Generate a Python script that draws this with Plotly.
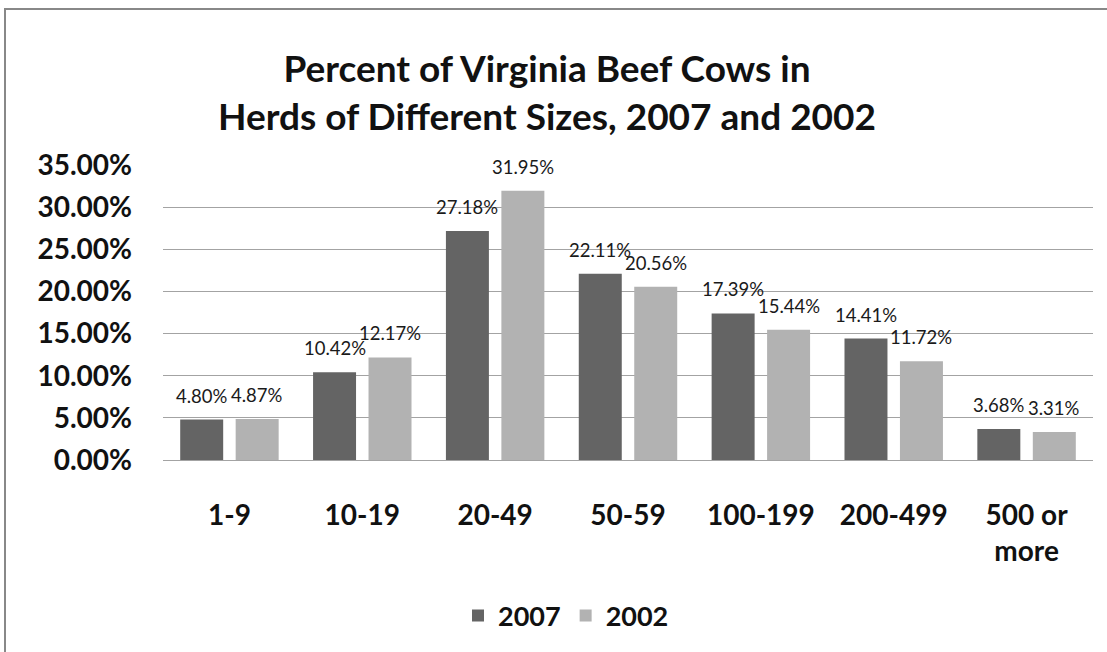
import plotly.graph_objects as go

# Herd size classes and share of beef cows per class
herd_sizes = ["1-9", "10-19", "20-49", "50-59", "100-199", "200-499", "500 or<br>more"]
share_2007 = [4.80, 10.42, 27.18, 22.11, 17.39, 14.41, 3.68]
share_2002 = [4.87, 12.17, 31.95, 20.56, 15.44, 11.72, 3.31]
y_ticks = [0, 5, 10, 15, 20, 25, 30, 35]

FONT = "Lato"

W, H = 1107, 652
L, R, T, B = 163, 14, 165, 190
pw, ph = W - L - R, H - T - B

BARGAP = 0.165
GROUPGAP = 0.225
slot_px = pw / len(herd_sizes) * (1 - BARGAP) / 2


def px(x):
    return (x - L) / pw


def py(y):
    return (H - B - y) / ph


fig = go.Figure()
series = [("2007", share_2007, "#646464", -0.5), ("2002", share_2002, "#b2b2b2", 0.5)]
annotations = []
for name, vals, color, side in series:
    fig.add_trace(go.Bar(
        x=herd_sizes,
        y=[v / 100 for v in vals],
        name=name,
        marker=dict(color=color, line=dict(width=0)),
    ))
    # value labels floating above each bar
    for cat, v in zip(herd_sizes, vals):
        annotations.append(dict(
            x=cat, y=v / 100, xref="x", yref="y",
            text=f"{v:.2f}%", showarrow=False,
            xanchor="center", yanchor="middle",
            xshift=side * slot_px, yshift=24,
            font=dict(family=FONT, size=18.5, color="#1a1a1a"),
        ))

fig.update_layout(
    width=W, height=H,
    margin=dict(l=L, r=R, t=T, b=B),
    paper_bgcolor="white",
    plot_bgcolor="white",
    barmode="group",
    bargap=BARGAP,
    bargroupgap=GROUPGAP,
    title=dict(
        text="Percent of Virginia Beef Cows in<br>Herds of Different Sizes, 2007 and 2002",
        x=547 / W, xref="container", xanchor="center",
        y=1 - 82 / H, yref="container", yanchor="middle",
        font=dict(family=FONT, size=37, color="#111111", weight="bold"),
    ),
    xaxis=dict(
        showgrid=False,
        showline=False,
        ticks="",
        automargin=False,
        tickfont=dict(family=FONT, size=28, color="#111111", weight="bold"),
        ticklabelstandoff=36,
    ),
    yaxis=dict(
        range=[0, 0.35],
        tickvals=[v / 100 for v in y_ticks],
        tickformat=".2%",
        showgrid=True,
        gridcolor="#a3a3a3",
        gridwidth=1,
        zeroline=True,
        zerolinecolor="#a3a3a3",
        zerolinewidth=1,
        showline=False,
        ticks="",
        automargin=False,
        tickfont=dict(family=FONT, size=28, color="#111111", weight="bold"),
        ticklabelstandoff=30,
    ),
    legend=dict(
        orientation="h",
        x=px(566), xanchor="center",
        y=py(619), yanchor="middle",
        font=dict(family=FONT, size=27, color="#111111", weight="bold"),
        itemwidth=30,
        tracegroupgap=0,
    ),
    annotations=annotations,
    shapes=[dict(
        type="rect", xref="paper", yref="paper",
        x0=px(5), x1=px(1120), y0=py(670), y1=py(8),
        line=dict(color="#888888", width=2),
        fillcolor="rgba(0,0,0,0)",
        layer="below",
    )],
)

fig.write_html("out.html")
